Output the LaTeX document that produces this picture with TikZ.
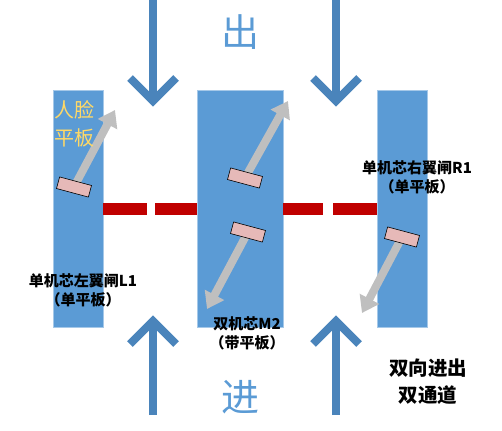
\documentclass[tikz,border=0pt]{standalone}
\usepackage{fontspec}
\newfontfamily\cjk{Noto Sans CJK SC}
\usetikzlibrary{arrows.meta}
\definecolor{barblue}{RGB}{91,155,213}
\definecolor{arrowblue}{RGB}{74,132,187}
\definecolor{dashred}{RGB}{192,0,0}
\definecolor{plate}{RGB}{230,185,184}
\definecolor{gold}{RGB}{255,217,102}
\definecolor{arrgray}{RGB}{191,191,191}
\begin{document}
\begin{tikzpicture}[x=1pt,y=-1pt,
 bar/.style={draw=barblue!55!white, line width=0.8pt, fill=barblue, minimum width=50pt, minimum height=237pt, inner sep=0pt},
 bigarrow/.style={draw=arrowblue, line width=8pt},
 reddash/.style={draw=dashred, line width=12pt},
 platebox/.style={draw=black, line width=0.6pt, fill=plate, minimum width=33pt, minimum height=12pt, inner sep=0pt, rotate=-15},
 grayarr/.style={draw=arrgray, line width=8pt, -{Triangle[length=16pt 0 0,width=21pt 0 0]}},
 lbl/.style={font=\cjk\bfseries\fontsize{15}{19}\selectfont, align=center, text=black, inner sep=0pt},
 lbl2/.style={font=\cjk\bfseries\fontsize{19.5}{27}\selectfont, align=center, text=black, inner sep=0pt},
 big/.style={font=\cjk\fontsize{38}{40}\selectfont, text=barblue, inner sep=0pt}]
\useasboundingbox (0,0) rectangle (502,430);
% bars
\node[bar] (L) at (78,208.5) {};
\node[bar, minimum width=86pt] (M) at (240,208.5) {};
\node[bar] (R) at (402,208.5) {};
% red dashed link
\draw[reddash, dash pattern=on 44pt off 8pt on 60pt] (L.east) -- (M.west);
\draw[reddash, dash pattern=on 40pt off 10pt on 60pt] (M.east) -- (R.west);
% blue direction arrows
\draw[bigarrow] (153,0) -- (153,100);
\draw[bigarrow] (130,78) -- (153,101) -- (176,78);
\draw[bigarrow] (336,0) -- (336,100);
\draw[bigarrow] (313,78) -- (336,101) -- (359,78);
\draw[bigarrow] (153,415) -- (153,322);
\draw[bigarrow] (130,344) -- (153,321) -- (176,344);
\draw[bigarrow] (336,415) -- (336,322);
\draw[bigarrow] (313,344) -- (336,321) -- (359,344);
% gray arrows and plates
\coordinate (s1) at (74,187);
\coordinate (t1) at (115,110);
\coordinate (s2) at (245,178);
\coordinate (t2) at (288,101);
\coordinate (s3) at (248,232);
\coordinate (t3) at (207,309);
\coordinate (s4) at (402,237);
\coordinate (t4) at (362,313);
\draw[grayarr] (s1) -- (t1);
\draw[grayarr] (s2) -- (t2);
\draw[grayarr] (s3) -- (t3);
\draw[grayarr] (s4) -- (t4);
\node[platebox] (p1) at (s1) {};
\node[platebox] (p2) at (s2) {};
\node[platebox] (p3) at (s3) {};
\node[platebox] (p4) at (s4) {};
% texts
\node[font=\cjk\fontsize{20}{28}\selectfont, text=gold, align=left, inner sep=0pt, anchor=west] (face) at (54,124) {人脸\\平板};
\node[lbl] (lL) at (83,290) {单机芯左翼闸L1\\（单平板）};
\node[lbl] (lR) at (417,177.5) {单机芯右翼闸R1\\（单平板）};
\node[lbl] (lM) at (247,333) {双机芯M2\\（带平板）};
\node[lbl2] (dual) at (428,381.5) {双向进出\\双通道};
\node[big] (out) at (240,32) {出};
\node[big] (in) at (240,397) {进};
\end{tikzpicture}
\end{document}
